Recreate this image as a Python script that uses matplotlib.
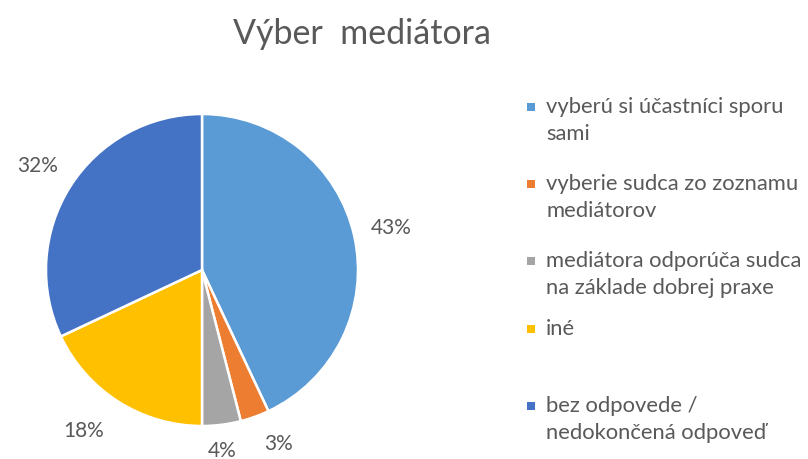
import numpy as np
import matplotlib.pyplot as plt
from matplotlib.patches import Rectangle

plt.rcParams['font.family'] = ['Lato', 'DejaVu Sans']

categories = ['vyberú si účastníci sporu\nsami',
              'vyberie sudca zo zoznamu\nmediátorov',
              'mediátora odporúča sudca\nna základe dobrej praxe',
              'iné',
              'bez odpovede /\nnedokončená odpoveď']
values = [43, 3, 4, 18, 32]
colors = ['#5B9BD5', '#ED7D31', '#A5A5A5', '#FFC000', '#4472C4']
legend_y = [107, 184, 261, 329, 406]  # pixel rows of legend entries
label_dist = [1.24, 1.22, 1.17, 1.28, 1.25]
label_nudge = [0, 4, -1, -4, 0]  # degrees

W, H = 808, 459
txt = '#595959'

fig = plt.figure(figsize=(W / 100, H / 100), dpi=100)

# pie axes in pixel coordinates
cx, cy, r = 202, 270, 156
ax = fig.add_axes([(cx - r) / W, (H - cy - r) / H, 2 * r / W, 2 * r / H])
wedges, texts, autotexts = ax.pie(values, colors=colors, startangle=90, counterclock=False,
                                  autopct='%1.0f%%', pctdistance=1.24, radius=1,
                                  wedgeprops=dict(edgecolor='white', linewidth=1.8),
                                  textprops=dict(color=txt, fontsize=15))
for w, t, d, n in zip(wedges, autotexts, label_dist, label_nudge):
    ang = np.deg2rad((w.theta1 + w.theta2) / 2 + n)
    t.set_position((d * np.cos(ang), d * np.sin(ang)))
ax.set_xlim(-1, 1)
ax.set_ylim(-1, 1)
ax.set_aspect('equal')

fig.text(362 / W, 1 - 44 / H, 'Výber  mediátora', ha='center', va='baseline',
         fontsize=24.5, color=txt)

# legend
for lab, col, y in zip(categories, colors, legend_y):
    fig.patches.append(Rectangle(((531 - 4) / W, 1 - (y + 4) / H), 8 / W, 8 / H,
                                 transform=fig.transFigure, facecolor=col, edgecolor='none'))
    for i, line in enumerate(lab.split('\n')):
        fig.text(546 / W, 1 - (y + 6 + 27 * i) / H, line, ha='left', va='baseline',
                 fontsize=15.8, color=txt)

fig.savefig('out.png', dpi=100)
